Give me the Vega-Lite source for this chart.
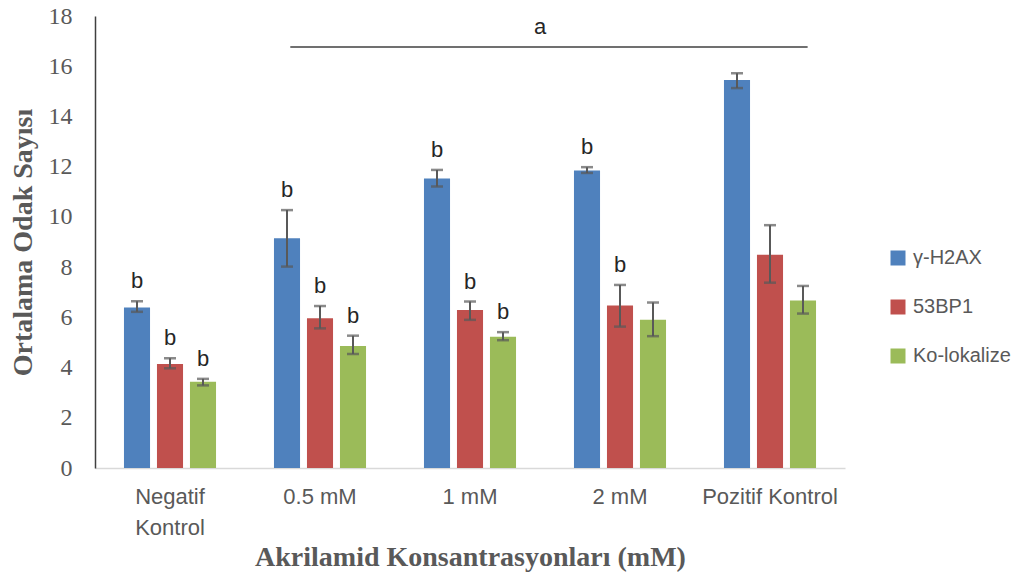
{
  "$schema": "https://vega.github.io/schema/vega-lite/v6.json",
  "autosize": {"type": "none"},
  "padding": {"left": 95, "top": 16, "right": 185, "bottom": 107},
  "width": 750,
  "height": 452,
  "background": "white",
  "config": {
    "view": {"stroke": null},
    "axis": {"grid": false}
  },
  "datasets": {
    "bars": [
      {"cat": "Negatif Kontrol", "series": "γ-H2AX", "v": 6.39, "lo": 6.22, "hi": 6.64, "lab": "b"},
      {"cat": "Negatif Kontrol", "series": "53BP1", "v": 4.14, "lo": 3.97, "hi": 4.37, "lab": "b"},
      {"cat": "Negatif Kontrol", "series": "Ko-lokalize", "v": 3.43, "lo": 3.29, "hi": 3.55, "lab": "b"},
      {"cat": "0.5 mM", "series": "γ-H2AX", "v": 9.15, "lo": 8.02, "hi": 10.27, "lab": "b"},
      {"cat": "0.5 mM", "series": "53BP1", "v": 5.96, "lo": 5.56, "hi": 6.45, "lab": "b"},
      {"cat": "0.5 mM", "series": "Ko-lokalize", "v": 4.86, "lo": 4.54, "hi": 5.27, "lab": "b"},
      {"cat": "1 mM", "series": "γ-H2AX", "v": 11.53, "lo": 11.21, "hi": 11.87, "lab": "b"},
      {"cat": "1 mM", "series": "53BP1", "v": 6.29, "lo": 5.9, "hi": 6.63, "lab": "b"},
      {"cat": "1 mM", "series": "Ko-lokalize", "v": 5.23, "lo": 5.09, "hi": 5.41, "lab": "b"},
      {"cat": "2 mM", "series": "γ-H2AX", "v": 11.85, "lo": 11.75, "hi": 11.98, "lab": "b"},
      {"cat": "2 mM", "series": "53BP1", "v": 6.47, "lo": 5.63, "hi": 7.29, "lab": "b"},
      {"cat": "2 mM", "series": "Ko-lokalize", "v": 5.9, "lo": 5.25, "hi": 6.59, "lab": ""},
      {"cat": "Pozitif Kontrol", "series": "γ-H2AX", "v": 15.45, "lo": 15.13, "hi": 15.72, "lab": ""},
      {"cat": "Pozitif Kontrol", "series": "53BP1", "v": 8.49, "lo": 7.38, "hi": 9.67, "lab": ""},
      {"cat": "Pozitif Kontrol", "series": "Ko-lokalize", "v": 6.67, "lo": 6.15, "hi": 7.25, "lab": ""}
    ],
    "bracket": [
      {"cat": "0.5 mM", "cat2": "Pozitif Kontrol", "mid": "1 mM", "y": 16.77, "t": "a"}
    ]
  },
  "layer": [
    {
      "data": {"name": "bars"},
      "mark": {"type": "bar"},
      "encoding": {
        "x": {
          "field": "cat", "type": "nominal",
          "scale": {"domain": ["Negatif Kontrol", "0.5 mM", "1 mM", "2 mM", "Pozitif Kontrol"], "paddingInner": 0.34, "paddingOuter": 0.17},
          "axis": {
            "title": "Akrilamid Konsantrasyonları (mM)",
            "titleFont": "Liberation Serif", "titleFontSize": 28, "titleFontWeight": "bold", "titleColor": "#595959",
            "titlePadding": 5,
            "labelFont": "Liberation Sans", "labelFontSize": 22, "labelColor": "#595959",
            "labelAngle": 0, "labelPadding": 18, "labelLineHeight": 31,
            "labelExpr": "datum.label == 'Negatif Kontrol' ? ['Negatif', 'Kontrol'] : datum.label",
            "ticks": false, "domainColor": "#d9d9d9", "domainWidth": 1.5
          }
        },
        "xOffset": {
          "field": "series", "type": "nominal",
          "scale": {"domain": ["γ-H2AX", "53BP1", "Ko-lokalize"], "paddingInner": 0.21, "paddingOuter": 0.105}
        },
        "y": {
          "field": "v", "type": "quantitative",
          "scale": {"domain": [0, 18], "nice": false},
          "axis": {
            "title": "Ortalama Odak Sayısı",
            "titleFont": "Liberation Serif", "titleFontSize": 28, "titleFontWeight": "bold", "titleColor": "#595959",
            "titlePadding": 11,
            "values": [0, 2, 4, 6, 8, 10, 12, 14, 16, 18],
            "labelFont": "Liberation Serif", "labelFontSize": 24, "labelColor": "#595959",
            "labelPadding": 23, "ticks": false, "domainColor": "#404040", "domainWidth": 1.5
          }
        },
        "color": {
          "field": "series", "type": "nominal",
          "scale": {"domain": ["γ-H2AX", "53BP1", "Ko-lokalize"], "range": ["#4F81BD", "#C0504D", "#9BBB59"]},
          "legend": {
            "title": null, "orient": "none", "legendX": 793, "legendY": 232,
            "symbolType": "square", "symbolSize": 225, "symbolStrokeWidth": 0,
            "labelFont": "Liberation Sans", "labelFontSize": 20, "labelColor": "#595959",
            "labelOffset": 5, "rowPadding": 29
          }
        }
      }
    },
    {
      "data": {"name": "bars"},
      "mark": {"type": "rule", "color": "#595959", "strokeWidth": 2},
      "encoding": {
        "x": {"field": "cat", "type": "nominal"},
        "xOffset": {"field": "series", "type": "nominal"},
        "y": {"field": "lo", "type": "quantitative"},
        "y2": {"field": "hi"}
      }
    },
    {
      "data": {"name": "bars"},
      "mark": {"type": "tick", "color": "#595959", "thickness": 2.5, "size": 12},
      "encoding": {
        "x": {"field": "cat", "type": "nominal"},
        "xOffset": {"field": "series", "type": "nominal"},
        "y": {"field": "lo", "type": "quantitative"}
      }
    },
    {
      "data": {"name": "bars"},
      "mark": {"type": "tick", "color": "#595959", "thickness": 2.5, "size": 12},
      "encoding": {
        "x": {"field": "cat", "type": "nominal"},
        "xOffset": {"field": "series", "type": "nominal"},
        "y": {"field": "hi", "type": "quantitative"}
      }
    },
    {
      "data": {"name": "bars"},
      "mark": {"type": "text", "font": "Liberation Sans", "fontSize": 22, "color": "#262626", "baseline": "bottom", "dy": -8},
      "encoding": {
        "x": {"field": "cat", "type": "nominal"},
        "xOffset": {"field": "series", "type": "nominal"},
        "y": {"field": "hi", "type": "quantitative"},
        "text": {"field": "lab"}
      }
    },
    {
      "data": {"name": "bracket"},
      "mark": {"type": "rule", "color": "#404040", "strokeWidth": 1.5},
      "encoding": {
        "x": {"field": "cat", "type": "nominal", "bandPosition": 0.2},
        "x2": {"field": "cat2", "bandPosition": 0.88},
        "y": {"field": "y", "type": "quantitative"}
      }
    },
    {
      "data": {"name": "bracket"},
      "mark": {"type": "text", "font": "Liberation Sans", "fontSize": 22, "color": "#262626", "baseline": "bottom", "dy": -8, "dx": 70},
      "encoding": {
        "x": {"field": "mid", "type": "nominal"},
        "y": {"field": "y", "type": "quantitative"},
        "text": {"field": "t"}
      }
    }
  ]
}
